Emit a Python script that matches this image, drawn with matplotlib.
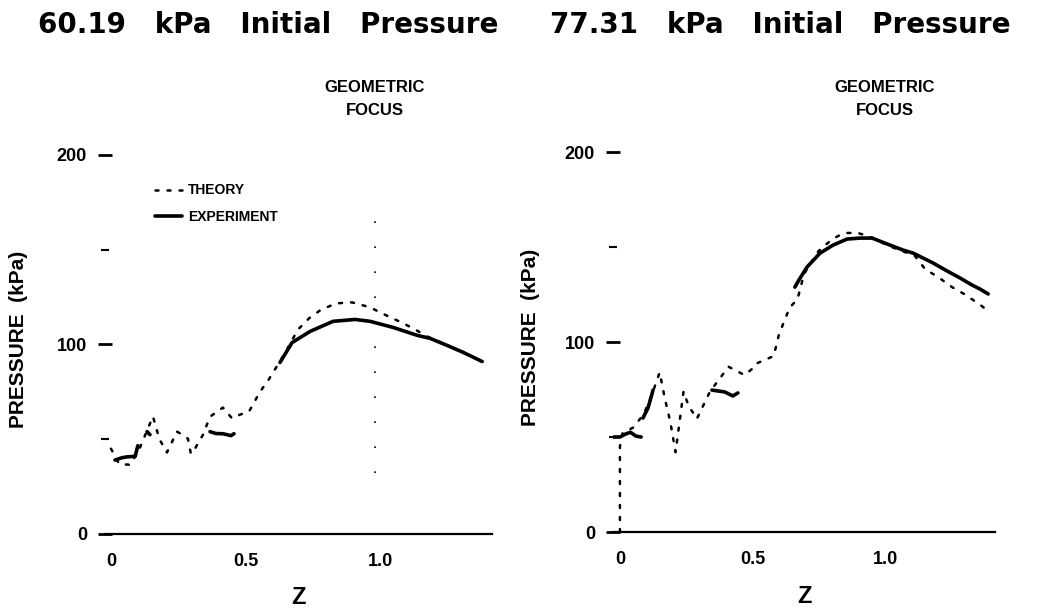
import numpy as np
import matplotlib
matplotlib.use("Agg")
import matplotlib.pyplot as plt
from matplotlib.transforms import blended_transform_factory

nan = np.nan

plt.rcParams['font.family'] = ['Liberation Sans', 'DejaVu Sans']
plt.rcParams['font.weight'] = 'bold'

titles = ["60.19   kPa   Initial   Pressure", "77.31   kPa   Initial   Pressure"]
focus_z = [0.98, 1.0]

# 60.19 kPa panel
theory_z_60 = [0.0, 0.03, 0.07, 0.10, 0.156, 0.18, 0.208, 0.245, 0.27, 0.286, 0.297, 0.312,
               0.327, 0.342, 0.368, 0.416, 0.45, 0.48, 0.513, 0.554, 0.584, 0.632, 0.654,
               0.695, 0.736, 0.777, 0.836, 0.896, 0.963, 1.0, 1.063, 1.123, 1.175, 1.25,
               1.31, 1.38]
theory_p_60 = [45, 37, 36.5, 43, 62, 50, 43, 54, 52, 50.3, 42.3, 45,
               48.7, 52.4, 61.9, 66.7, 61, 63, 64.6, 75.1, 81, 92.1, 97.4,
               107.9, 113.8, 118, 121.7, 122.2, 119.6, 116.9, 112.7, 108.5, 104.2, 99.5,
               95.8, 91]
exp_z_60 = [0.015, 0.04, 0.06, 0.09, 0.10, nan, 0.134, 0.145, nan,
            0.368, 0.39, 0.416, 0.446, 0.457, nan,
            0.628, 0.673, 0.74, 0.825, 0.907, 0.963, 1.048, 1.138, 1.186, 1.249, 1.309, 1.379]
exp_p_60 = [39, 40.2, 40.7, 41, 46.6, nan, 54, 52.4, nan,
            54, 53, 52.9, 51.9, 52.9, nan,
            90.5, 101, 106.9, 112.2, 113.2, 112.2, 109, 104.8, 103.2, 99.5, 95.8, 91]

# 77.31 kPa panel
theory_z_77 = [0.0, 0.0, 0.01, 0.05, 0.09, 0.12, 0.15, 0.17, 0.19, 0.21, 0.24, 0.26, 0.28,
               0.29, 0.34, 0.41, 0.47, 0.50, 0.51, 0.58, 0.60, 0.64, 0.67, 0.695, 0.75,
               0.80, 0.83, 0.857, 0.898, 0.95, 1.0, 1.06, 1.11, 1.151, 1.20, 1.253, 1.298,
               1.355, 1.389]
theory_p_77 = [0, 45, 52, 55, 62, 72, 84, 70, 58, 42, 74, 66, 62,
               59.5, 74, 87, 82.6, 86, 88.4, 92.6, 104, 118, 122.6, 136, 148,
               154, 156.3, 157.4, 157.4, 155, 151.5, 148, 145.8, 138.4, 134.2, 128.9, 125.3,
               120, 116.3]
exp_z_77 = [-0.04, 0.0, 0.02, 0.04, 0.06, 0.08, nan, 0.087, 0.106, 0.125, nan,
            0.347, 0.396, 0.426, 0.445, nan,
            0.66, 0.675, 0.706, 0.755, 0.804, 0.857, 0.906, 0.951, 1.008, 1.068, 1.106,
            1.181, 1.234, 1.283, 1.328, 1.358, 1.389]
exp_p_77 = [50, 50, 51.5, 52.5, 50.5, 50, nan, 60, 65.3, 74.7, nan,
            74.7, 73.7, 71.6, 73.2, nan,
            128.9, 132.6, 139.5, 146.8, 151, 154.2, 154.7, 154.7, 151.6, 148.4, 146.8,
            141.6, 137.4, 133.7, 130, 127.9, 125.3]

yticks = [0, 100, 200]
yminor = [50, 150]
xticks = [0, 0.5, 1.0]
xticklabels = ["0", "0.5", "1.0"]

fig = plt.figure(figsize=(10.39, 6.13), dpi=100)

rects = [[0.1011, 0.1289, 0.3725, 0.6338], [0.590, 0.1321, 0.3677, 0.6354]]
xlims = [(-0.022, 1.416), (-0.026, 1.415)]
ylab_x = [-0.20, -0.19]
title_x = [268 / 1039, 780 / 1039]
panels = [(theory_z_60, theory_p_60, exp_z_60, exp_p_60),
          (theory_z_77, theory_p_77, exp_z_77, exp_p_77)]

for i, (tz, tp, ez, ep) in enumerate(panels):
  ax = fig.add_axes(rects[i])
  th, = ax.plot(tz, tp, color='black', lw=1.8, linestyle=(0, (1.2, 3.6)),
                dash_capstyle='round', label='THEORY')
  ex, = ax.plot(ez, ep, color='black', lw=2.6, solid_capstyle='round',
                label='EXPERIMENT')

  ax.set_xlim(*xlims[i])
  ax.set_ylim(0, 205)
  for s in ['left', 'right', 'top']:
    ax.spines[s].set_visible(False)
  ax.spines['bottom'].set_linewidth(1.6)

  ax.set_xticks(xticks)
  ax.set_xticklabels(xticklabels)
  ax.set_yticks(yticks)
  ax.set_yticks(yminor, minor=True)
  ax.tick_params(axis='x', length=0, pad=14, labelsize=13)
  ax.tick_params(axis='y', which='major', direction='inout', length=10, width=2,
                 pad=8, labelsize=13)
  ax.tick_params(axis='y', which='minor', direction='inout', length=6, width=1.5)
  for lab in ax.get_xticklabels() + ax.get_yticklabels():
    lab.set_fontweight('bold')

  ax.set_ylabel("PRESSURE  (kPa)", fontsize=15, fontweight='bold')
  ax.yaxis.set_label_coords(ylab_x[i], 0.5)
  ax.set_xlabel("Z", fontsize=17, fontweight='bold')
  ax.xaxis.set_label_coords(0.5, -0.135)

  trans = blended_transform_factory(ax.transData, fig.transFigure)
  ax.text(focus_z[i], 1 - 99 / 613, "GEOMETRIC\nFOCUS", transform=trans,
          ha='center', va='center', fontsize=12, fontweight='bold', linespacing=1.6)

  fig.text(title_x[i], 1 - 25 / 613, titles[i], ha='center', va='center',
           fontsize=20, fontweight='bold', family=['DejaVu Sans'])

  if i == 0:
    # faint dotted marker at the geometric focus
    ax.plot([focus_z[i], focus_z[i]], [32, 165], color='black', lw=1.2,
            linestyle=(0, (1, 14)))
    ax.legend(handles=[th, ex], loc='upper left', bbox_to_anchor=(0.11, 0.92),
              frameon=False, handlelength=2.0, handletextpad=0.4, borderpad=0,
              labelspacing=0.9, prop={'size': 10, 'weight': 'bold'})

fig.savefig("out.png", dpi=100)
